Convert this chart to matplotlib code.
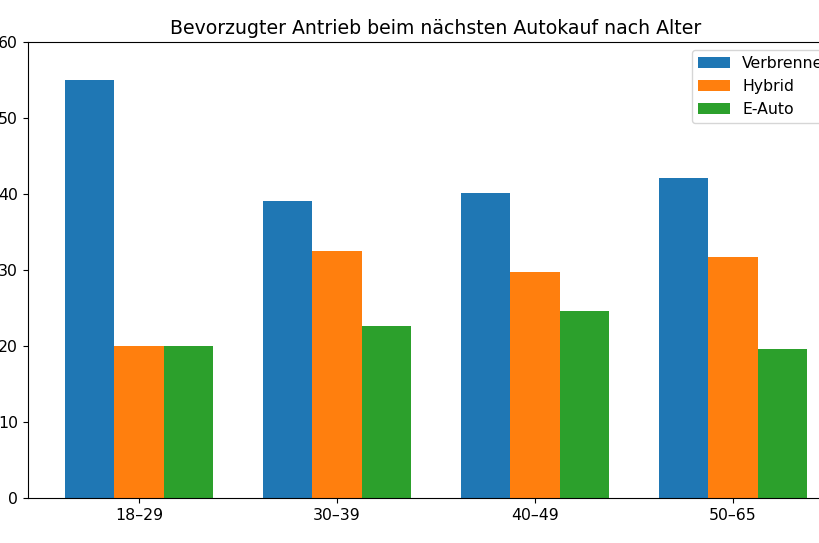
import numpy as np
import matplotlib.pyplot as plt

# Altersgruppen und Anteile (%)
altersgruppen = ['18–29', '30–39', '40–49', '50–65']
verbrenner = [55.0, 39.1, 40.1, 42.1]
hybrid = [20.0, 32.5, 29.7, 31.7]
e_auto = [20.0, 22.6, 24.6, 19.6]

scale = 1.13
plt.rcParams['font.size'] = 10 * scale

fig = plt.figure(figsize=(8.2, 5.43), dpi=100)
ax = fig.add_axes([0.0337, 0.0829, 0.996, 0.8398])

x = np.arange(len(altersgruppen))
w = 0.25
ax.bar(x - w, verbrenner, w, label='Verbrenner')
ax.bar(x, hybrid, w, label='Hybrid')
ax.bar(x + w, e_auto, w, label='E-Auto')

ax.set_xticks(x)
ax.set_xticklabels(altersgruppen)
ax.set_ylim(0, 60)
ax.set_title('Bevorzugter Antrieb beim nächsten Autokauf nach Alter', fontsize=12 * scale)
ax.legend(loc='upper right')

fig.savefig('out.png', dpi=100)
